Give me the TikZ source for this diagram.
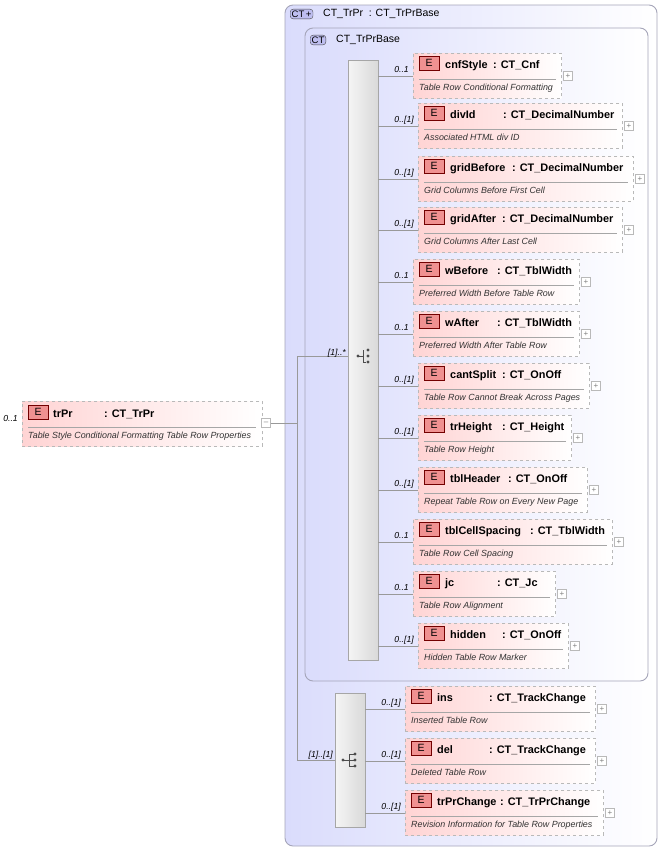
\documentclass[tikz,border=0pt]{standalone}
\usepackage{fontspec}
\setmainfont{Liberation Sans}
\usetikzlibrary{calc}
\definecolor{lav}{RGB}{218,220,252}
\definecolor{lavb}{RGB}{165,165,185}
\definecolor{pinkf}{RGB}{255,212,212}
\definecolor{badge}{RGB}{240,145,145}
\definecolor{ctb}{RGB}{190,190,240}
\tikzset{
 ln/.style={draw=gray!80, line width=0.6pt},
 ebox/.style={draw=gray!55, dashed, line width=0.9pt, left color=pinkf, right color=white, anchor=north west, minimum height=45pt, inner sep=0},
 badge/.style={draw=red!45!black, fill=badge, minimum width=20pt, minimum height=14pt, inner sep=0, font=\fontsize{10.5}{11}\selectfont, anchor=north west},
 nm/.style={font=\bfseries\fontsize{10.9}{12}\selectfont, anchor=base west, inner sep=0},
 ds/.style={font=\itshape\fontsize{8.9}{10}\selectfont, anchor=base west, inner sep=0, text=black!80},
 ml/.style={font=\itshape\fontsize{8.7}{10}\selectfont, anchor=base east, inner sep=0},
 pl/.style={draw=gray!55, fill=white, minimum size=9pt, inner sep=0, font=\fontsize{8}{8}\selectfont, text=gray},
 bar/.style={draw=gray!70, left color=gray!8, right color=gray!30, anchor=north west, inner sep=0},
 ctbadge/.style={draw=black!70, fill=ctb, rounded corners=3pt, inner sep=1.5pt, font=\fontsize{9.5}{10}\selectfont, anchor=west},
 ttl/.style={font=\fontsize{10.5}{12}\selectfont, anchor=west, inner sep=0},
}
% id, x1, y1, x2, name, typeX, type, desc, mult
\newcommand\elem[9]{%
 \pgfmathsetmacro\ew{#4-#2}\pgfmathsetmacro\tx{#6-#2}%
 \node[ebox, minimum width=\ew pt] (#1) at (#2,#3) {};
 \node[badge] (#1b) at ($(#1.north west)+(6pt,-3pt)$) {E};
 \node[nm] at ($(#1.north west)+(32pt,-15pt)$) {#5};
 \node[nm] at ($(#1.north west)+(\tx pt,-15pt)$) {: #7};
 \draw[gray!70] ($(#1.north west)+(6pt,-26pt)$) -- ($(#1.north east)+(-6pt,-26pt)$);
 \node[ds] at ($(#1.north west)+(6pt,-37pt)$) {#8};
 \node[pl] (#1p) at ($(#1.east)+(6pt,0)$) {+};
 \coordinate (#1c) at (#1.west);
 \node[ml] at ($(#1c)+(-4pt,3pt)$) {#9};
}
\begin{document}
\begin{tikzpicture}[x=1pt,y=-1pt]
\useasboundingbox (0,0) rectangle (660,849);
\draw[lavb, line width=0.9pt, rounded corners=8pt, left color=lav, right color=white] (285,5) rectangle (657,846);
\node[ctbadge] (ct1) at (290,14) {CT\,+};
\node[ttl] (t1) at (323,14) {CT\_TrPr\ \ : CT\_TrPrBase};
\draw[lavb, line width=0.9pt, rounded corners=8pt, left color=lav, right color=white] (305,28) rectangle (648,681);
\node[ctbadge] (ct2) at (310,40) {CT};
\node[ttl] (t2) at (336,40) {CT\_TrPrBase};
\node[bar, minimum width=30pt, minimum height=600pt] (seq) at (348,60) {};
\node[bar, minimum width=30pt, minimum height=134pt] (cho) at (335,693) {};
\coordinate (si) at (363,356);
\fill[black!70] ($(si)+(-5,0)$) circle (1.6);
\draw[black!70, line width=0.8pt] ($(si)+(-5,0)$) -- ($(si)+(0,0)$) ($(si)+(0,-6)$) -- ($(si)+(0,6)$) -- ($(si)+(3,6)$);
\foreach \d in {-6,0,6} \fill[black!70] ($(si)+(5,\d)$) circle (1.6);
\coordinate (ci) at (350,760);
\fill[black!70] ($(ci)+(-7,0)$) circle (1.6);
\draw[black!70, line width=0.8pt] ($(ci)+(-7,0)$) -- ($(ci)+(-1,0)$) ($(ci)+(-1,-6)$) -- ($(ci)+(-1,6)$) ($(ci)+(-1,-6)$) -- ($(ci)+(4,-6)$) ($(ci)+(-1,0)$) -- ($(ci)+(4,0)$) ($(ci)+(-1,6)$) -- ($(ci)+(4,6)$);
\foreach \d in {-6,0,6} \fill[black!70] ($(ci)+(5,\d)$) circle (1.6);

\node[ebox, minimum width=240pt, minimum height=45pt] (trpr) at (22,401) {};
\node[badge] at (28,405) {E};
\node[nm] at (53,417) {trPr};
\node[nm] at (104,417) {: CT\_TrPr};
\draw[gray!70] (28,427) -- (256,427);
\node[ds] at (28,438) {Table Style Conditional Formatting Table Row Properties};
\node[pl] (trprm) at (266,423) {--};
\node[ml] at (18,421) {0..1};
\coordinate (j) at (297,423);
\coordinate (jt) at (297,356);
\coordinate (jb) at (297,760);
\draw[ln] (trprm) -- (j);
\draw[ln] (jt) -- (jb);
\draw[ln] (jt) -- (seq.west |- jt);
\draw[ln] (jb) -- (cho.west |- jb);
\node[ml] at (346,355) {[1]..*};
\node[ml] at (333,757) {[1]..[1]};

\elem{a}{413}{53}{561}{cnfStyle}{493}{CT\_Cnf}{Table Row Conditional Formatting}{0..1}
\elem{b}{418}{103}{622}{divId}{503}{CT\_DecimalNumber}{Associated HTML div ID}{0..[1]}
\elem{c}{418}{156}{633}{gridBefore}{512}{CT\_DecimalNumber}{Grid Columns Before First Cell}{0..[1]}
\elem{d}{418}{207}{622}{gridAfter}{502}{CT\_DecimalNumber}{Grid Columns After Last Cell}{0..[1]}
\elem{e}{413}{259}{579}{wBefore}{497}{CT\_TblWidth}{Preferred Width Before Table Row}{0..1}
\elem{f}{413}{311}{579}{wAfter}{497}{CT\_TblWidth}{Preferred Width After Table Row}{0..1}
\elem{g}{418}{363}{589}{cantSplit}{502}{CT\_OnOff}{Table Row Cannot Break Across Pages}{0..[1]}
\elem{h}{418}{415}{571}{trHeight}{502}{CT\_Height}{Table Row Height}{0..[1]}
\elem{i}{418}{467}{587}{tblHeader}{508}{CT\_OnOff}{Repeat Table Row on Every New Page}{0..[1]}
\elem{k}{413}{519}{612}{tblCellSpacing}{530}{CT\_TblWidth}{Table Row Cell Spacing}{0..1}
\elem{l}{413}{571}{555}{jc}{497}{CT\_Jc}{Table Row Alignment}{0..1}
\elem{m}{418}{623}{568}{hidden}{502}{CT\_OnOff}{Hidden Table Row Marker}{0..[1]}
\elem{n}{405}{686}{595}{ins}{489}{CT\_TrackChange}{Inserted Table Row}{0..[1]}
\elem{o}{405}{738}{595}{del}{489}{CT\_TrackChange}{Deleted Table Row}{0..[1]}
\elem{p}{405}{790}{603}{trPrChange}{500}{CT\_TrPrChange}{Revision Information for Table Row Properties}{0..[1]}
\foreach \q in {a,b,c,d,e,f,g,h,i,k,l,m} \draw[ln] (seq.east |- \q c) -- (\q c);
\foreach \q in {n,o,p} \draw[ln] (cho.east |- \q c) -- (\q c);
\end{tikzpicture}
\end{document}
